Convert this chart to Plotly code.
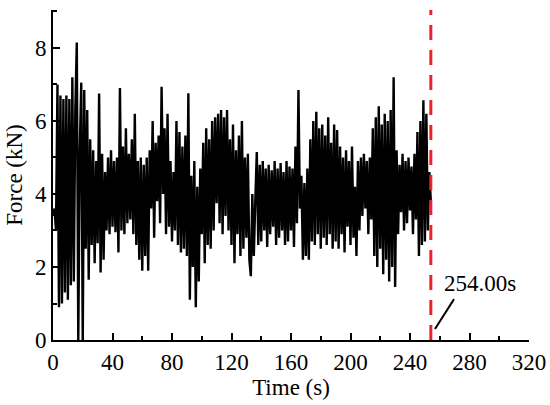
"""Force vs time trace with the failure instant marked (Plotly)."""
import plotly.graph_objects as go

time_s = list(range(0, 255))
force_kn = [
    3.4, 3.6, 3.0, 7.0, 0.9, 6.7, 1.0, 6.6, 1.3, 6.7,
    1.1, 6.6, 1.5, 7.2, 1.6, 6.3, 8.15, 0.0, 5.2, 7.05,
    0.0, 6.85, 2.5, 6.3, 1.65, 5.5, 2.6, 5.2, 2.1, 4.9,
    2.65, 6.75, 1.85, 5.1, 2.2, 4.6, 3.0, 5.0, 2.9, 5.2,
    3.1, 4.9, 2.95, 5.0, 2.4, 6.9, 3.0, 5.3, 2.9, 5.8,
    3.2, 5.1, 3.3, 5.5, 2.9, 6.2, 2.6, 4.9, 2.2, 5.0,
    1.9, 4.8, 2.3, 5.0, 1.9, 5.2, 3.6, 6.0, 2.8, 5.4,
    3.8, 5.6, 3.2, 6.94, 4.0, 5.8, 2.9, 6.2, 3.1, 4.9,
    2.7, 4.6, 3.0, 6.0, 2.6, 5.7, 2.4, 5.3, 2.5, 5.6,
    2.3, 6.76, 1.1, 4.5, 2.0, 4.9, 0.9, 4.2, 1.6, 4.7,
    2.9, 5.4, 2.1, 5.8, 2.6, 5.5, 2.5, 6.0, 3.0, 6.1,
    3.75, 6.2, 3.2, 6.3, 2.9, 6.1, 3.4, 6.3, 3.0, 5.5,
    2.6, 5.9, 2.1, 5.2, 2.9, 5.6, 2.3, 6.0, 2.5, 5.0,
    2.8, 5.1, 2.2, 1.75, 4.0, 2.3, 3.8, 5.15, 2.6, 4.8,
    2.7, 4.9, 3.0, 4.7, 2.55, 4.8, 2.9, 4.65, 3.1, 4.9,
    2.6, 4.7, 2.8, 4.85, 3.0, 4.6, 2.6, 4.9, 2.7, 4.75,
    3.0, 4.7, 2.55, 5.3, 3.2, 6.85, 3.6, 4.5, 2.2, 4.3,
    2.3, 4.7, 2.2, 5.5, 2.7, 6.0, 2.6, 6.25, 2.9, 5.8,
    2.5, 5.9, 2.8, 5.6, 2.6, 6.1, 2.9, 5.4, 2.5, 5.9,
    2.7, 5.75, 2.5, 5.3, 2.9, 5.0, 2.4, 5.2, 3.1, 4.9,
    2.6, 5.3, 2.8, 4.2, 2.3, 4.9, 3.0, 5.0, 3.4, 5.1,
    3.6, 4.9, 2.9, 5.0, 3.3, 5.8, 2.3, 6.1, 2.0, 6.4,
    2.5, 5.9, 1.8, 6.2, 2.2, 6.0, 1.6, 6.3, 2.0, 7.2,
    1.45, 5.2, 2.9, 4.8, 3.5, 5.1, 3.0, 4.9, 3.2, 5.0,
    3.55, 4.75, 2.9, 5.1, 3.3, 5.7, 2.3, 6.0, 2.6, 6.57,
    2.7, 6.2, 3.0, 4.6, 3.8,
]

x_ticks = [0, 40, 80, 120, 160, 200, 240, 280, 320]
y_ticks = [0, 2, 4, 6, 8]
event_time = 254.0

FONT = "Liberation Serif, Times New Roman, serif"

fig = go.Figure()
fig.add_trace(go.Scatter(
    x=time_s, y=force_kn, mode="lines",
    line=dict(color="black", width=2.4),
    showlegend=False,
))

# failure instant
fig.add_shape(type="line", xref="x", yref="paper",
              x0=event_time, x1=event_time, y0=0, y1=1,
              line=dict(color="#e8232b", width=3, dash="15px,10px"))
# leader line to the label
fig.add_shape(type="line", xref="x", yref="y",
              x0=event_time + 2.8, y0=0.3, x1=event_time + 15.6, y1=1.12,
              line=dict(color="black", width=2))
fig.add_annotation(x=event_time + 33, y=1.56, xref="x", yref="y",
                   text=f"{event_time:.2f}s", showarrow=False,
                   font=dict(family=FONT, size=23, color="black"))

axis_common = dict(
    showline=True, linecolor="black", linewidth=2, mirror=False,
    showgrid=False, zeroline=False, automargin=False,
    ticks="inside", ticklen=7, tickwidth=2, tickcolor="black",
    tickfont=dict(family=FONT, size=23, color="black"),
)
fig.update_xaxes(
    range=[0, 320], tickvals=x_ticks,
    minor=dict(dtick=20, tick0=0, ticks="inside", ticklen=4, tickwidth=2,
               tickcolor="black", showgrid=False),
    title=dict(text="Time (s)", font=dict(family=FONT, size=23, color="black"),
               standoff=0),
    **axis_common,
)
fig.update_yaxes(
    range=[0, 9.04], tickvals=y_ticks,
    minor=dict(dtick=1, tick0=0, ticks="inside", ticklen=4, tickwidth=2,
               tickcolor="black", showgrid=False),
    title=dict(text="Force (kN)", font=dict(family=FONT, size=23, color="black"),
               standoff=6),
    **axis_common,
)
fig.update_layout(
    width=550, height=405,
    margin=dict(l=53, r=21, t=10, b=65),
    plot_bgcolor="white", paper_bgcolor="white",
    font=dict(family=FONT),
)
# the page's default body margin would push the figure 8px in
fig.write_html("out.html", config={"displayModeBar": False},
               post_script="document.body.style.margin='0px';")
